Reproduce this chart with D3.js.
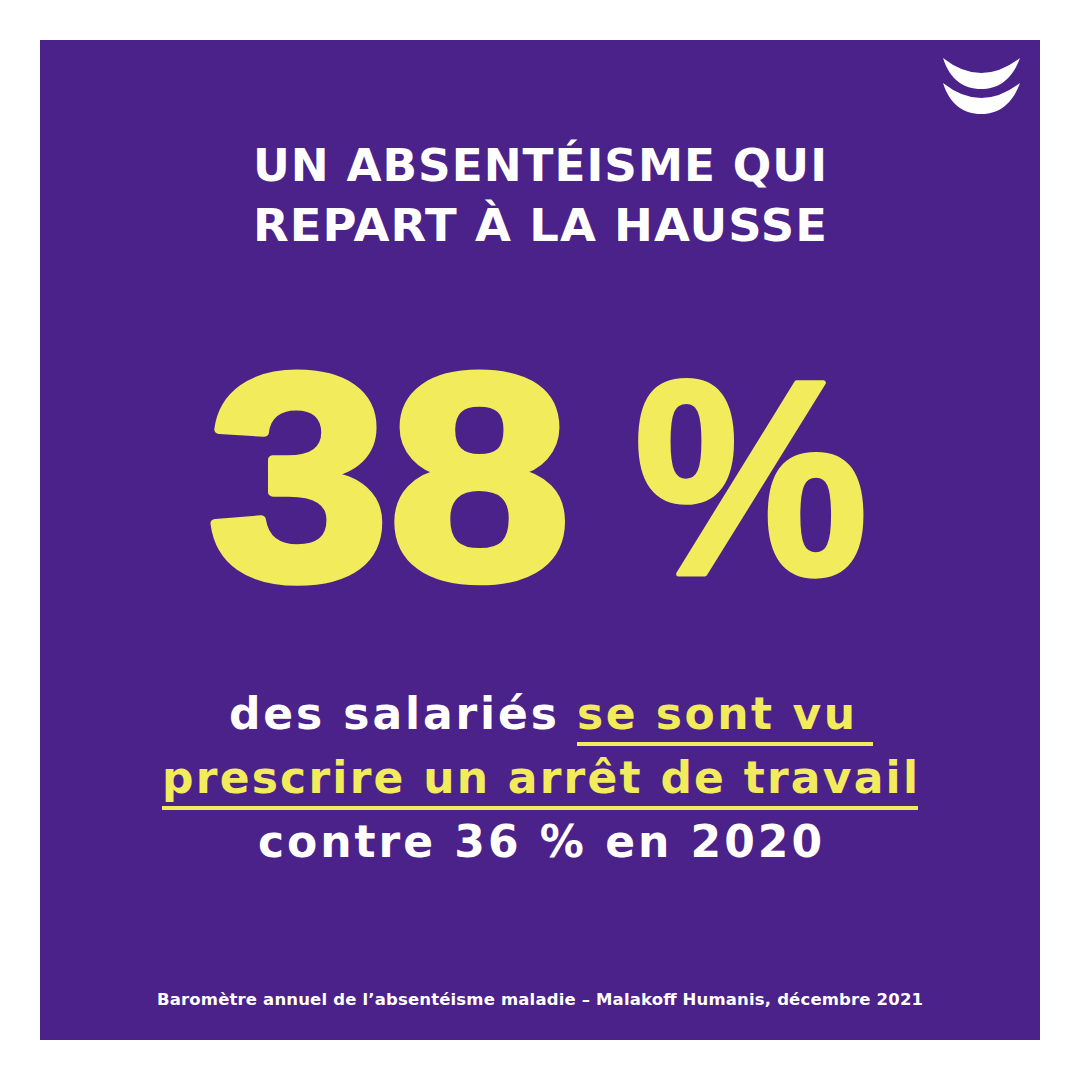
<!DOCTYPE html>
<html>

<head>
  <title>Absentéisme</title>
  <script src="https://cdn.jsdelivr.net/npm/d3@7"></script>
  <style>
    body { margin: 0; background: #fff; }
  </style>
</head>

<body>
  <svg width="1080" height="1080" id="mainsvg"></svg>
  <script>
    // contenu
    const titleLines = ['UN ABSENTÉISME QUI', 'REPART À LA HAUSSE'];
    const shareValue = [38];
    const previousValue = [36];
    const previousYear = [2020];
    const bodyParts = [
      { line: 0, text: 'des salariés', hl: false },
      { line: 0, text: 'se sont vu', hl: true },
      { line: 1, text: 'prescrire un arrêt de travail', hl: true },
      { line: 2, text: `contre ${previousValue[0]} % en ${previousYear[0]}`, hl: false }
    ];
    const source = ['Baromètre annuel de l’absentéisme maladie – Malakoff Humanis, décembre 2021'];

    const purple = '#4b218a';
    const yellow = '#f2eb5c';
    const font = '"Liberation Sans", Arial, sans-serif';
    const wide = '"DejaVu Sans", sans-serif';

    const svg = d3.select('#mainsvg');
    const width = +svg.attr('width');
    const height = +svg.attr('height');

    svg.append('rect').attr('x', 40).attr('y', 40)
      .attr('width', width - 80).attr('height', height - 80)
      .attr('fill', purple);

    // logo
    const logo = svg.append('g').attr('fill', '#fff');
    [0, 25].forEach(dy => {
      logo.append('path')
        .attr('transform', `translate(0,${dy})`)
        .attr('d', 'M943,58 Q981,88 1020,58 C1012,80 998,89 981,89 C964,89 950,80 943,58 Z');
    });

    // titre
    const titleY = d3.scalePoint().domain(titleLines).range([181, 241]);
    svg.selectAll('text.title').data(titleLines).join('text')
      .attr('class', 'title')
      .attr('x', 253)
      .attr('y', d => titleY(d))
      .attr('textLength', 575)
      .attr('lengthAdjust', 'spacingAndGlyphs')
      .attr('font-family', wide)
      .attr('font-weight', 700)
      .attr('font-size', 45)
      .attr('letter-spacing', 1)
      .attr('fill', '#fff')
      .text(d => d);

    // grand chiffre
    const big = svg.append('g')
      .attr('fill', yellow).attr('stroke', yellow)
      .attr('stroke-width', 9).attr('stroke-linejoin', 'round')
      .attr('font-family', font).attr('font-weight', 700);
    big.append('text')
      .attr('x', 208).attr('y', 578)
      .attr('font-size', 292)
      .attr('textLength', 362).attr('lengthAdjust', 'spacingAndGlyphs')
      .text(shareValue[0]);
    big.append('text')
      .attr('x', 634).attr('y', 574)
      .attr('font-size', 278)
      .attr('stroke-width', 5)
      .attr('textLength', 234).attr('lengthAdjust', 'spacingAndGlyphs')
      .text('%');

    // texte
    const lineY = d3.scaleOrdinal().domain([0, 1, 2]).range([729, 793, 857]);
    const partX = [229, 577, 162, 258];
    const partW = [328, 278, 756, 564];
    svg.selectAll('text.body').data(bodyParts).join('text')
      .attr('class', 'body')
      .attr('x', (d, i) => partX[i])
      .attr('y', d => lineY(d.line))
      .attr('textLength', (d, i) => partW[i])
      .attr('lengthAdjust', 'spacing')
      .attr('font-family', wide)
      .attr('font-weight', 700)
      .attr('font-size', 44)
      .attr('fill', d => d.hl ? yellow : '#fff')
      .text(d => d.text);

    const underlines = [[577, 873, 742], [162, 918, 806]];
    svg.selectAll('rect.ul').data(underlines).join('rect')
      .attr('class', 'ul')
      .attr('x', d => d[0]).attr('y', d => d[2])
      .attr('width', d => d[1] - d[0]).attr('height', 4)
      .attr('fill', yellow);

    // source
    svg.append('text')
      .attr('x', 157).attr('y', 1005)
      .attr('textLength', 766).attr('lengthAdjust', 'spacing')
      .attr('font-family', wide).attr('font-weight', 700)
      .attr('font-size', 16.5).attr('fill', '#fff')
      .text(source[0]);
  </script>
</body>

</html>
